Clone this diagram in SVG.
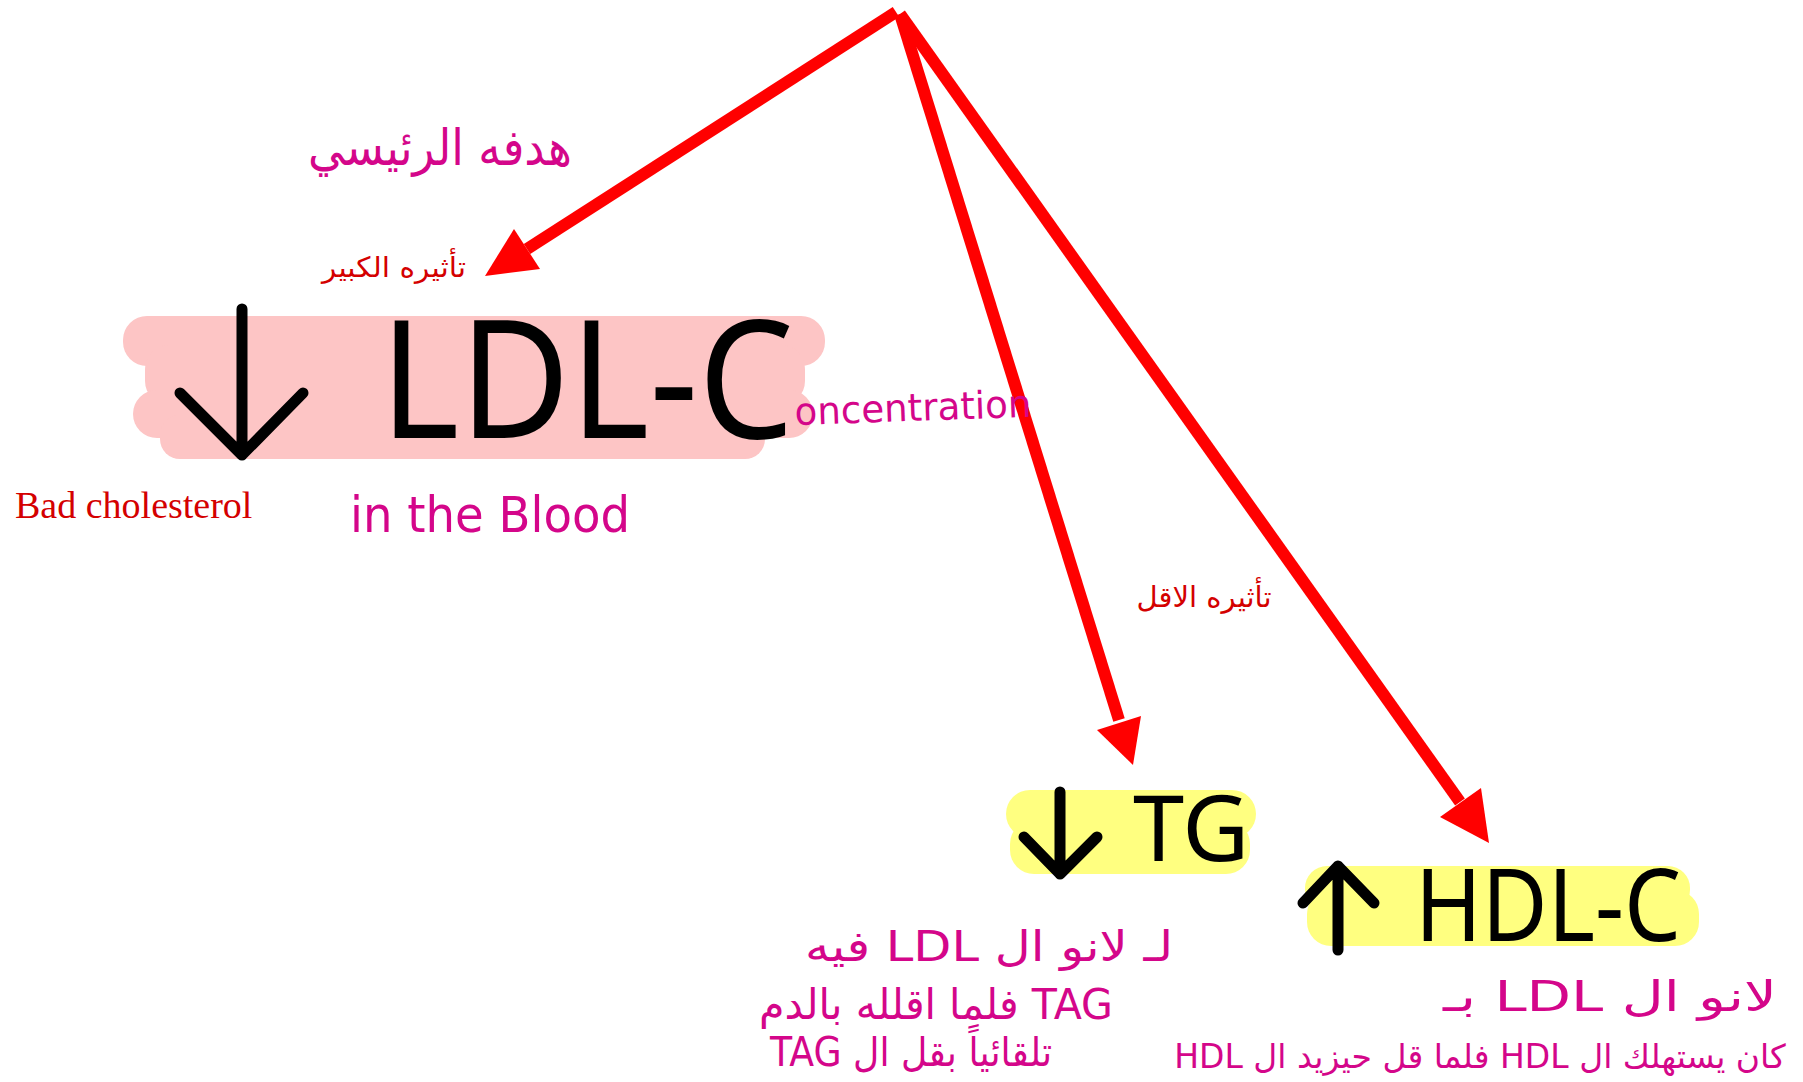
<svg xmlns="http://www.w3.org/2000/svg" width="1803" height="1082" viewBox="0 0 1803 1082">
<style>
.big{font-family:"Noto Sans","DejaVu Sans",sans-serif;fill:#000}
.hand{font-family:"DejaVu Sans","Noto Sans",sans-serif;fill:#d4068a}
.redt{fill:#d40000;font-family:"DejaVu Sans",sans-serif}
.sym{fill:none;stroke:#000;stroke-width:11;stroke-linecap:round;stroke-linejoin:round}
.conn{stroke:#ff0000;stroke-width:12;fill:none}
.head{fill:#ff0000}
.pink{fill:#fdc5c5}
.yel{fill:#ffff80}
</style>
<rect width="1803" height="1082" fill="#fff"/>
<g id="connectors">
  <line class="conn" x1="896" y1="12" x2="527" y2="249"/>
  <polygon class="head" points="485,276 540,269 514,229"/>
  <line class="conn" x1="900" y1="14" x2="1119" y2="720"/>
  <polygon class="head" points="1133,765 1141,716 1097,730"/>
  <line class="conn" x1="900" y1="14" x2="1460" y2="802"/>
  <polygon class="head" points="1489,843 1481,788 1440,817"/>
</g>
<g id="ldl">
  <rect class="pink" x="123" y="316" width="702" height="50" rx="24"/>
  <rect class="pink" x="145" y="345" width="660" height="60" rx="24"/>
  <rect class="pink" x="133" y="390" width="680" height="48" rx="24"/>
  <rect class="pink" x="160" y="415" width="605" height="44" rx="20"/>
  <path class="sym" d="M242,309 V455 M180,393 L242,455 L303,393"/>
  <text class="big" x="380" y="438" font-size="165" textLength="414" lengthAdjust="spacingAndGlyphs">LDL-C</text>
  <text class="hand" x="795" y="425" font-size="38" textLength="237" lengthAdjust="spacingAndGlyphs" transform="rotate(-2 795 425)">oncentration</text>
  <text class="hand" x="350" y="532" font-size="50" textLength="280" lengthAdjust="spacingAndGlyphs">in the Blood</text>
  <text class="redt" x="15" y="518" style="font-family:'Liberation Serif','Times New Roman',serif" font-size="38">Bad cholesterol</text>
</g>
<g id="goal">
  <text class="hand" x="440" y="165" font-size="50" text-anchor="middle" direction="rtl" textLength="264" lengthAdjust="spacingAndGlyphs">هدفه الرئيسي</text>
  <text class="redt" x="394" y="277" font-size="28" text-anchor="middle" direction="rtl" textLength="144" lengthAdjust="spacingAndGlyphs">تأثيره الكبير</text>
  <text class="redt" x="1204" y="607" font-size="29" text-anchor="middle" direction="rtl" textLength="135" lengthAdjust="spacingAndGlyphs">تأثيره الاقل</text>
</g>
<g id="tg">
  <rect class="yel" x="1006" y="790" width="250" height="48" rx="24"/>
  <rect class="yel" x="1010" y="820" width="240" height="54" rx="24"/>
  <path class="sym" d="M1060,792 V874 M1024,837 L1060,874 L1097,837"/>
  <text class="big" x="1133" y="861" font-size="92">TG</text>
  <text class="hand" x="989" y="961" font-size="42" text-anchor="middle" direction="rtl" textLength="368" lengthAdjust="spacingAndGlyphs">لـ لانو ال LDL فيه</text>
  <text class="hand" x="936" y="1019" font-size="42" text-anchor="middle" direction="rtl" textLength="354" lengthAdjust="spacingAndGlyphs">TAG فلما اقلله بالدم</text>
  <text class="hand" x="911" y="1066" font-size="40" text-anchor="middle" direction="rtl" textLength="282" lengthAdjust="spacingAndGlyphs">تلقائياً بقل ال TAG</text>
</g>
<g id="hdl">
  <rect class="yel" x="1305" y="866" width="385" height="46" rx="22"/>
  <rect class="yel" x="1307" y="890" width="392" height="56" rx="24"/>
  <path class="sym" d="M1338,950 V866 M1303,903 L1338,866 L1374,903"/>
  <text class="big" x="1415" y="941" font-size="100" textLength="266" lengthAdjust="spacingAndGlyphs">HDL-C</text>
  <text class="hand" x="1610" y="1011" font-size="42" text-anchor="middle" direction="rtl" textLength="334" lengthAdjust="spacingAndGlyphs">لانو ال LDL بـ</text>
  <text class="hand" x="1480" y="1068" font-size="33" text-anchor="middle" direction="rtl">كان يستهلك ال HDL فلما قل حيزيد ال HDL</text>
</g>
</svg>
